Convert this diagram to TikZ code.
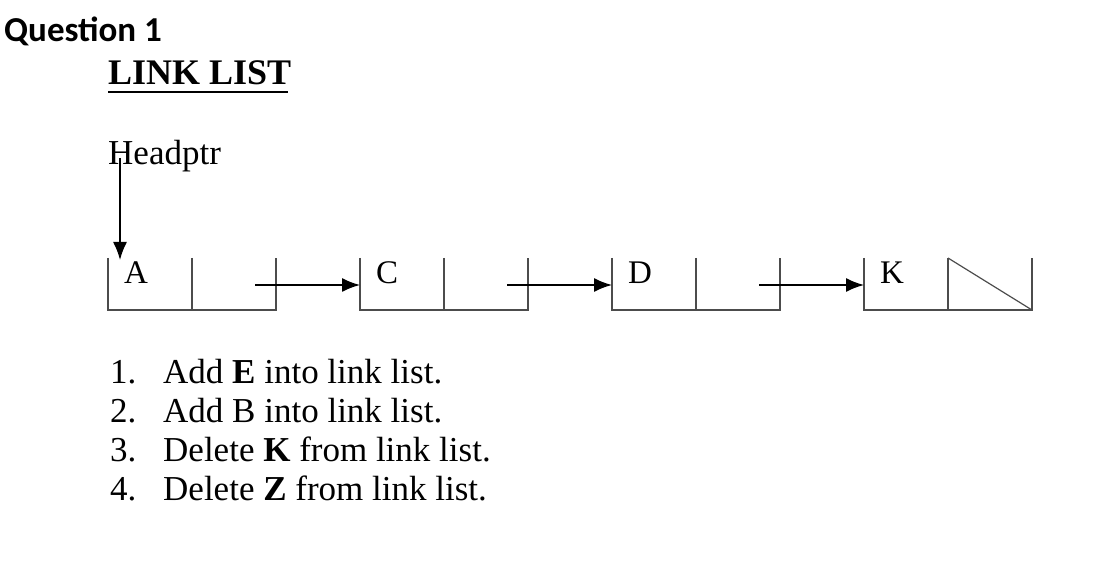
\documentclass[tikz,border=0pt]{standalone}
\usepackage{fontspec}
\usetikzlibrary{arrows.meta}
\setmainfont{Liberation Serif}
\newfontfamily\qfont{Carlito}
\begin{document}
\begin{tikzpicture}[x=1pt,y=-1pt,
  cell/.style={draw=black!70,line width=1.2pt},
  ptr/.style={line width=1.6pt,-{Latex[length=18pt,width=14pt]}},
  txt/.style={inner sep=0pt,anchor=base west,font=\fontsize{35}{40}\selectfont}]
\useasboundingbox (0,0) rectangle (1095,585);
\node[anchor=base west,inner sep=0pt,font=\qfont\bfseries\fontsize{35}{40}\selectfont] (q) at (4,42) {Question 1};
\node[txt,font=\bfseries\fontsize{36}{40}\selectfont] (title) at (108,85) {LINK LIST};
\draw[line width=1.5pt] (108,92) -- (288,92);
\node[txt] (head) at (108,165) {Headptr};
\foreach \n/\x/\l in {a/108/A,c/360/C,d/612/D,k/864/K}{
  \draw[cell] (\x,258) -- (\x,310) -- (\x+168,310) -- (\x+168,258);
  \draw[cell] (\x+84,258) -- (\x+84,310);
  \node[txt,font=\fontsize{33}{38}\selectfont] (\n) at (\x+16,284) {\l};
  \coordinate (\n in) at (\x,285);
}
\draw[cell] (948,258) -- (1032,310);
\coordinate (hs) at (120,158);
\coordinate (ht) at (120,260);
\draw[ptr] (hs) -- (ht);
\foreach \x/\t in {255/c,507/d,759/k}{
  \coordinate (s\t) at (\x,285);
  \draw[ptr] (s\t) -- (\t in);
}
\foreach \i/\y/\t in {1/383/{Add \textbf{E} into link list.},2/422/{Add B into link list.},3/461/{Delete \textbf{K} from link list.},4/500/{Delete \textbf{Z} from link list.}}{
  \node[txt] (n\i) at (110,\y) {\i.};
  \node[txt] (t\i) at (163,\y) {\t};
}
\end{tikzpicture}
\end{document}
